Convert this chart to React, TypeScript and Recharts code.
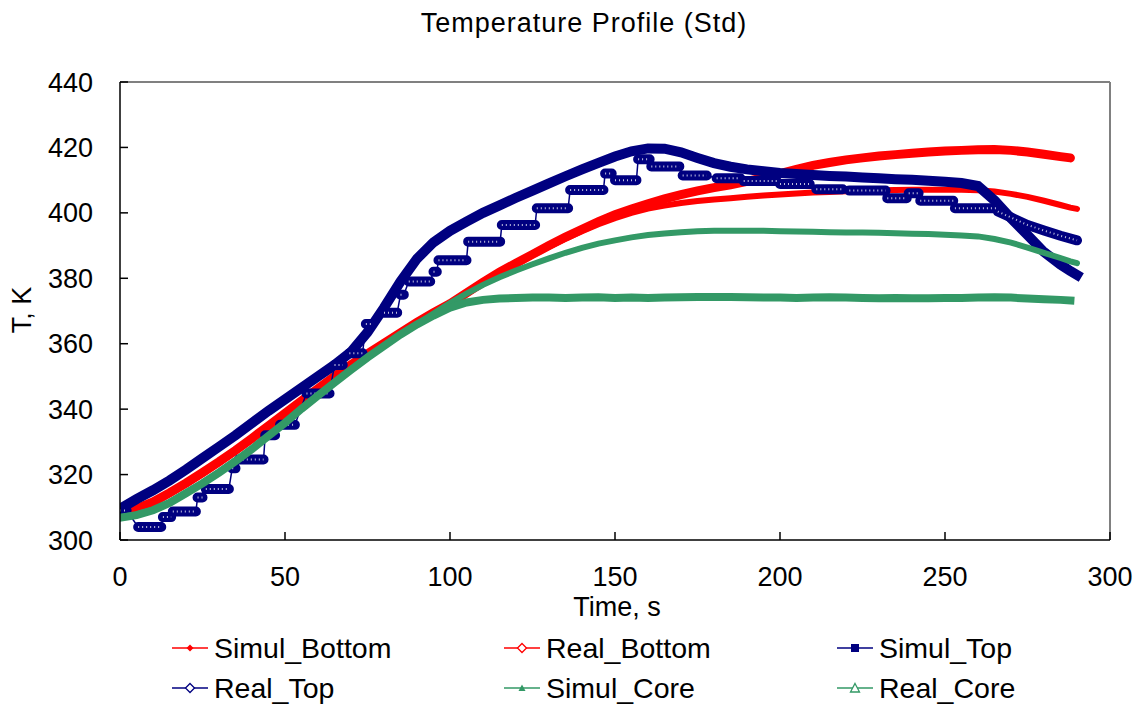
import { LineChart, Line, XAxis, YAxis, ReferenceLine } from 'recharts'

const FONT = '"Liberation Sans", Arial, sans-serif'
const RED = '#ff0000'
const NAVY = '#000080'
const GREEN = '#339966'

// time grid (s) shared by the smooth series
const times = [
  0, 5, 10, 15, 20, 25, 30, 35, 40, 45, 50, 55, 60, 65, 70, 75, 80, 85, 90, 95,
  100, 105, 110, 115, 120, 125, 130, 135, 140, 145, 150, 155, 160, 165, 170, 175, 180, 185, 190, 195,
  200, 205, 210, 215, 220, 225, 230, 235, 240, 245, 250, 255, 260, 265, 270, 275, 280, 285, 288, 290,
]

const simulBottom = [
  308, 309.2, 311.2, 314, 317, 320.2, 323.5, 327, 330.7, 334.5, 338.3, 342.1, 345.9, 349.7, 353.2, 356.6, 359.8, 363, 366.2, 369.2,
  372, 375.2, 378.3, 381.3, 384.2, 387, 389.6, 392.1, 394.4, 396.5, 398.4, 400, 401.3, 402.2, 403, 403.6, 404.1, 404.5, 404.9, 405.3,
  405.6, 405.9, 406.2, 406.4, 406.6, 406.8, 406.9, 407, 407.1, 407.1, 407.1, 407.1, 406.9, 406.5, 405.8, 404.9, 403.7, 402.4, 401.6, 401.2,
]

const realBottom = [
  308.5, 309.6, 311.6, 314.4, 317.4, 320.6, 323.9, 327.4, 331.1, 334.9, 338.7, 342.5, 346.3, 350, 353.6, 356.9, 360.1, 363.3, 366.5, 369.5,
  372.2, 375.5, 378.8, 381.9, 384.6, 387.3, 390, 392.6, 395, 397.3, 399.4, 401.2, 402.8, 404.3, 405.6, 406.7, 407.7, 408.6, 409.6, 410.8,
  412, 413.3, 414.5, 415.4, 416.2, 416.8, 417.4, 417.8, 418.2, 418.6, 418.9, 419.1, 419.3, 419.4, 419.1, 418.6, 417.9, 417.2, 416.8, null,
]

const simulTop = [
  309.5, 312.5, 315.2, 318.2, 321.5, 325, 328.5, 332, 335.8, 339.5, 343, 346.5, 350, 353.5, 357.5, 363.5, 371, 379, 386, 391,
  394.5, 397.3, 400, 402.3, 404.6, 406.8, 409, 411.2, 413.3, 415.3, 417.2, 418.8, 419.7, 419.6, 418.5, 416.8, 415.2, 414.1, 413.3, 412.7,
  412.2, 411.9, 411.6, 411.3, 411.1, 410.8, 410.6, 410.3, 410.1, 409.8, 409.5, 409.1, 408.2, 403.8, 398.3, 393.2, 388, 384.2, 382.2, 381,
]

const simulCore = [
  307, 307.8, 309.3, 311.5, 314.5, 317.5, 320.8, 324.3, 328, 332, 336, 340.3, 344.3, 348.3, 352.2, 356, 359.5, 363, 366, 369.2,
  372.4, 375.3, 378, 380.3, 382.4, 384.3, 386.1, 387.8, 389.3, 390.6, 391.6, 392.5, 393.2, 393.7, 394.1, 394.4, 394.5, 394.5, 394.5, 394.5,
  394.4, 394.3, 394.2, 394.1, 394, 394, 393.9, 393.8, 393.6, 393.5, 393.3, 393.1, 392.8, 392, 390.9, 389.4, 387.8, 386.2, 385.2, 384.6,
]

const realCore = [
  306.8, 307.6, 309.1, 311.3, 314.3, 317.3, 320.6, 324.1, 327.8, 331.8, 335.8, 340.1, 344.1, 348.1, 352, 355.8, 359.3, 362.8, 365.9, 368.6,
  371, 372.6, 373.4, 373.8, 374, 374.1, 374.1, 374, 374.1, 374.2, 374, 374.1, 374, 374.1, 374.2, 374.3, 374.3, 374.3, 374.2, 374.1,
  374.1, 374, 374.1, 374.2, 374.1, 374, 373.9, 374, 373.9, 373.9, 374, 374, 374.1, 374.2, 374.1, 373.8, 373.6, 373.4, 373.2, null,
]

// Real_Top measured plateaus (start s, end s, K)
const realTopStart = [0, 5.5, 13, 16, 23.5, 26, 34, 36, 44, 48.5, 56.5, 65, 69.5, 74.5, 80, 85, 87.5, 95, 96.5, 105.5, 115.7, 126.3, 136.4, 147, 150, 157, 161, 170.5, 180.8, 189, 200, 211, 221, 232.5, 239, 242.5, 253]
const realTopEnd = [2, 12.5, 15.5, 23, 25, 33, 35, 43.5, 47, 53, 63.5, 67.5, 73.5, 76, 84, 86, 94, 96, 105, 115.2, 125.8, 135.8, 146.5, 149, 156.5, 160.5, 169.5, 177.8, 188, 199, 209, 219, 232, 238.4, 242, 252.5, 265.5]
const realTopValue = [309, 304, 307, 308.7, 313, 315.6, 321.9, 324.6, 332, 335.2, 344.8, 353.5, 357.1, 366, 369.5, 375, 379, 382, 385.5, 391.2, 396.3, 401.4, 407, 412, 410, 416.4, 414.2, 411.4, 410.6, 409.7, 408.8, 407.2, 406.8, 404.5, 406, 403.7, 401.4]
// falling tail after the plateaus
const realTopTailT = [266, 270, 275, 280, 285, 290]
const realTopTailV = [400.4, 398.6, 396.3, 394.6, 393, 391.6]

const xTicks = [0, 50, 100, 150, 200, 250, 300]
const yTicks = [300, 320, 340, 360, 380, 400, 420, 440]

const toRows = (vals: (number | null)[]) => times.map((t, i) => ({ t, v: vals[i] }))

// thin connector through every measured point
const realTopPath: { t: number; v: number | null }[] = []
// thick bands only on the plateaus (nulls break the line at the jumps)
const realTopBands: { t: number; v: number | null }[] = []
realTopStart.forEach((s, i) => {
  const e = realTopEnd[i]
  const v = realTopValue[i]
  realTopPath.push({ t: s, v }, { t: e, v })
  realTopBands.push({ t: s, v }, { t: e, v })
  const next = i + 1 < realTopStart.length ? realTopStart[i + 1] : realTopTailT[0]
  if (next - e > 0.2) realTopBands.push({ t: (e + next) / 2, v: null })
})
realTopTailT.forEach((t, i) => {
  realTopPath.push({ t, v: realTopTailV[i] })
  realTopBands.push({ t, v: realTopTailV[i] })
})

type MarkerKind = 'diamond' | 'hollowDiamond' | 'square' | 'triangle' | 'hollowTriangle'

const legendItems: { name: string; color: string; marker: MarkerKind; x: number; y: number }[] = [
  { name: 'Simul_Bottom', color: RED, marker: 'diamond', x: 171, y: 648 },
  { name: 'Real_Bottom', color: RED, marker: 'hollowDiamond', x: 503, y: 648 },
  { name: 'Simul_Top', color: NAVY, marker: 'square', x: 836, y: 648 },
  { name: 'Real_Top', color: NAVY, marker: 'hollowDiamond', x: 171, y: 688 },
  { name: 'Simul_Core', color: GREEN, marker: 'triangle', x: 503, y: 688 },
  { name: 'Real_Core', color: GREEN, marker: 'hollowTriangle', x: 836, y: 688 },
]

function Marker({ kind, color }: { kind: MarkerKind; color: string }) {
  const cx = 19
  const cy = 10
  switch (kind) {
    case 'diamond':
      return <path d={`M${cx} ${cy - 3.5}L${cx + 3.5} ${cy}L${cx} ${cy + 3.5}L${cx - 3.5} ${cy}Z`} fill={color} />
    case 'hollowDiamond':
      return <path d={`M${cx} ${cy - 4.5}L${cx + 4.5} ${cy}L${cx} ${cy + 4.5}L${cx - 4.5} ${cy}Z`} fill="#fff" stroke={color} strokeWidth={1.3} />
    case 'square':
      return <rect x={cx - 4} y={cy - 4} width={8} height={8} fill={color} />
    case 'triangle':
      return <path d={`M${cx} ${cy - 3.5}L${cx + 3.5} ${cy + 3}L${cx - 3.5} ${cy + 3}Z`} fill={color} />
    default:
      return <path d={`M${cx} ${cy - 4.5}L${cx + 4.5} ${cy + 4}L${cx - 4.5} ${cy + 4}Z`} fill="#fff" stroke={color} strokeWidth={1.3} />
  }
}

export default function App() {
  const axisStroke = { stroke: '#000', strokeWidth: 1.5 }
  return (
    <div style={{ position: 'absolute', left: 0, top: 0, width: 1139, height: 706, background: '#fff', fontFamily: FONT }}>
      <LineChart width={1139} height={706} margin={{ top: 82, right: 29, bottom: 106, left: 0 }}>
        <XAxis
          type="number"
          dataKey="t"
          domain={[0, 300]}
          ticks={xTicks}
          interval={0}
          allowDataOverflow
          height={60}
          tickSize={-8}
          tickMargin={35}
          axisLine={axisStroke}
          tickLine={axisStroke}
          tick={{ fill: '#000', fontSize: 27, fontFamily: FONT }}
        />
        <YAxis
          type="number"
          domain={[300, 440]}
          ticks={yTicks}
          interval={0}
          allowDataOverflow
          width={120}
          tickSize={-8}
          tickMargin={35}
          axisLine={axisStroke}
          tickLine={axisStroke}
          tick={{ fill: '#000', fontSize: 27, fontFamily: FONT }}
        />
        <ReferenceLine y={440} stroke="#808080" strokeWidth={2} />
        <ReferenceLine x={300} stroke="#808080" strokeWidth={2} />

        <Line data={toRows(simulBottom)} dataKey="v" name="Simul_Bottom" stroke={RED} strokeWidth={6} strokeLinecap="round" dot={false} activeDot={false} isAnimationActive={false} />
        <Line data={toRows(realBottom)} dataKey="v" name="Real_Bottom" stroke={RED} strokeWidth={9} strokeLinecap="round" dot={false} activeDot={false} isAnimationActive={false} />
        <Line data={toRows(simulTop)} dataKey="v" name="Simul_Top" stroke={NAVY} strokeWidth={10} strokeLinecap="square" dot={false} activeDot={false} isAnimationActive={false} />
        <Line data={realTopPath} dataKey="v" name="Real_Top" stroke={NAVY} strokeWidth={1.5} dot={false} activeDot={false} isAnimationActive={false} />
        <Line data={realTopBands} dataKey="v" name="Real_Top band" stroke={NAVY} strokeWidth={10} strokeLinecap="round" dot={false} activeDot={false} isAnimationActive={false} legendType="none" />
        <Line data={realTopBands} dataKey="v" name="Real_Top fill" stroke="#ffffff" strokeOpacity={0.75} strokeWidth={2} strokeDasharray="1 3" dot={false} activeDot={false} isAnimationActive={false} legendType="none" />
        <Line data={toRows(simulCore)} dataKey="v" name="Simul_Core" stroke={GREEN} strokeWidth={6} strokeLinecap="round" dot={false} activeDot={false} isAnimationActive={false} />
        <Line data={toRows(realCore)} dataKey="v" name="Real_Core" stroke={GREEN} strokeWidth={8} strokeLinecap="square" dot={false} activeDot={false} isAnimationActive={false} />
      </LineChart>

      <div style={{ position: 'absolute', left: 0, width: 1168, top: 8, textAlign: 'center', fontSize: 27, letterSpacing: 1, color: '#000' }}>
        Temperature Profile (Std)
      </div>
      <div style={{ position: 'absolute', left: 417, width: 400, top: 595, textAlign: 'center', fontSize: 27, color: '#000', lineHeight: '24px' }}>
        Time, s
      </div>
      <div style={{ position: 'absolute', left: 22, top: 310, fontSize: 27, color: '#000', whiteSpace: 'nowrap', transform: 'translate(-50%, -50%) rotate(-90deg)' }}>
        T, K
      </div>

      {legendItems.map((item) => (
        <div key={item.name} style={{ position: 'absolute', left: item.x, top: item.y - 17, height: 34, display: 'flex', alignItems: 'center', whiteSpace: 'nowrap' }}>
          <svg width={40} height={20} style={{ marginRight: 3 }}>
            <line x1={1} y1={10} x2={37} y2={10} stroke={item.color} strokeWidth={1.5} />
            <Marker kind={item.marker} color={item.color} />
          </svg>
          <span style={{ fontSize: 28.5, color: '#000' }}>{item.name}</span>
        </div>
      ))}
    </div>
  )
}
